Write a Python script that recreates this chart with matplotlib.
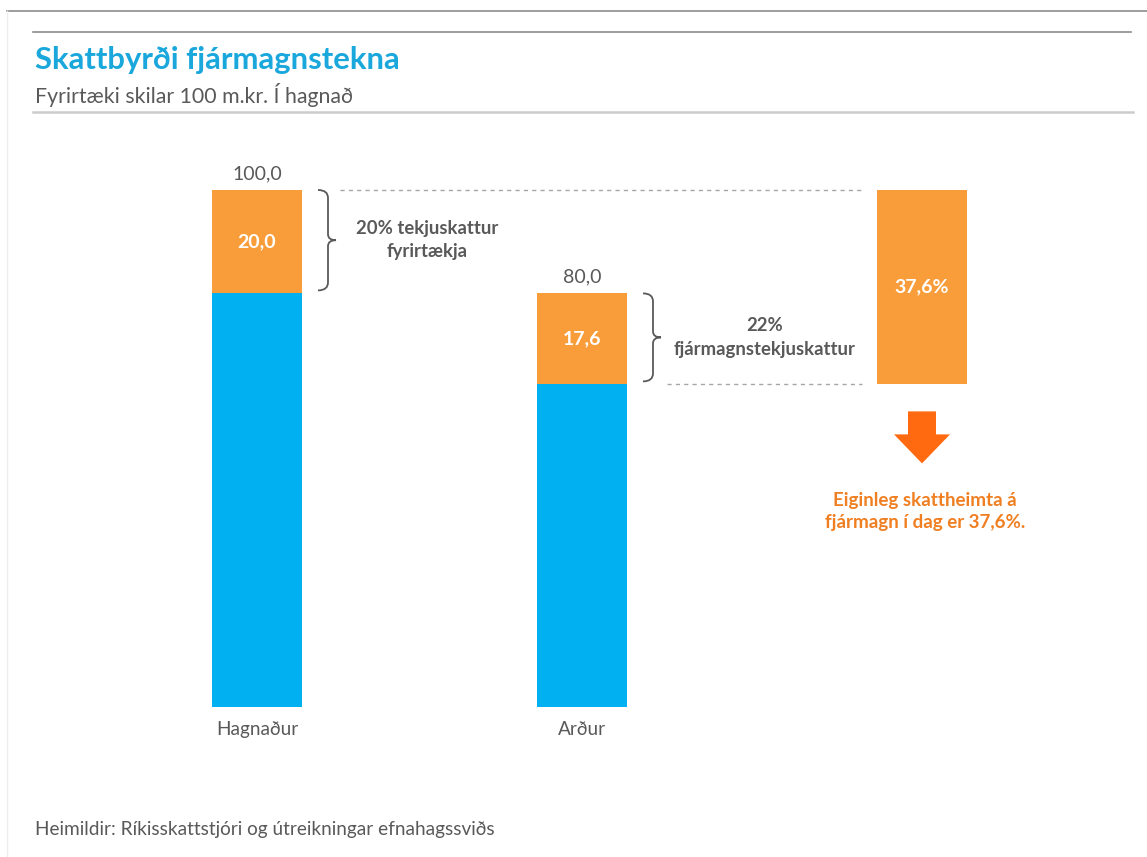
import matplotlib.pyplot as plt
from matplotlib.path import Path
from matplotlib.patches import PathPatch, FancyArrow
from matplotlib.lines import Line2D

plt.rcParams["font.family"] = ["Lato", "DejaVu Sans"]

categories = ["Hagnaður", "Arður"]
net_values = [80.0, 62.4]
tax_values = [20.0, 17.6]
total_labels = ["100,0", "80,0"]
tax_labels = ["20,0", "17,6"]
bracket_texts = ["20% tekjuskattur\nfyrirtækja", "22%\nfjármagnstekjuskattur"]
effective_rate = 37.6
effective_label = "37,6%"
conclusion = "Eiginleg skattheimta á\nfjármagn í dag er 37,6%."

BLUE = "#00B0F0"
ORANGE = "#F99D3A"
ARROW = "#FF6A10"
GRAY = "#595959"

W, H = 1147, 857
fig = plt.figure(figsize=(W / 100, H / 100), dpi=100)

# axes placed in pixel terms: bar centres at 257/582/922, baseline at y=707
px_per_x = 325.0
px_per_y = 5.17
ax_left, ax_right = 100, 1100
ax_top, ax_bottom = 140, 707
ax = fig.add_axes([ax_left / W, 1 - ax_bottom / H, (ax_right - ax_left) / W, (ax_bottom - ax_top) / H])
ax.set_xlim(-(257 - ax_left) / px_per_x, (ax_right - 257) / px_per_x)
ax.set_ylim(0, (ax_bottom - ax_top) / px_per_y)
for s in ax.spines.values():
    s.set_visible(False)
ax.set_yticks([])
width = 90 / px_per_x
xs = list(range(len(categories)))
ax.set_xticks(xs, categories, fontsize=13.7, color=GRAY)
ax.tick_params(axis="x", length=0, pad=10)

ax.bar(xs, net_values, width=width, color=BLUE)
ax.bar(xs, tax_values, width=width, bottom=net_values, color=ORANGE)
totals = [n + t for n, t in zip(net_values, tax_values)]

for x, n, t, tot, lab, tl in zip(xs, net_values, tax_values, totals, total_labels, tax_labels):
    ax.text(x, tot + 1.5, lab, ha="center", va="bottom", fontsize=14, color=GRAY)
    ax.text(x, n + t / 2, tl, ha="center", va="center", fontsize=14, color="white", fontweight="bold")

# floating effective-rate bar
x_eff = 2 + 15 / px_per_x
eff_bottom = totals[0] - effective_rate
ax.bar([x_eff], [effective_rate], width=width, bottom=eff_bottom, color=ORANGE)
ax.text(x_eff, eff_bottom + effective_rate / 2, effective_label, ha="center", va="center",
        fontsize=14, color="white", fontweight="bold")

# dashed guides
ax.plot([xs[0] + 83 / px_per_x, x_eff - 60 / px_per_x], [totals[0]] * 2,
        color="#A6A6A6", lw=1, ls=(0, (3, 3)))
ax.plot([xs[1] + 85 / px_per_x, x_eff - 60 / px_per_x], [eff_bottom] * 2,
        color="#A6A6A6", lw=1, ls=(0, (3, 3)))


def brace(x0, y_top, y_bot):
    dx = 1 / px_per_x
    dy = 1 / px_per_y
    xv = x0 + 10 * dx
    xt = x0 + 18 * dx
    ym = (y_top + y_bot) / 2
    verts = [
        (x0, y_top), (xv, y_top), (xv, y_top - 8 * dy),
        (xv, ym + 6 * dy), (xv, ym), (xt, ym),
        (xv, ym), (xv, ym - 6 * dy),
        (xv, y_bot + 8 * dy), (xv, y_bot), (x0, y_bot),
    ]
    codes = [Path.MOVETO, Path.CURVE3, Path.CURVE3, Path.LINETO, Path.CURVE3, Path.CURVE3,
             Path.CURVE3, Path.CURVE3, Path.LINETO, Path.CURVE3, Path.CURVE3]
    ax.add_patch(PathPatch(Path(verts, codes), fill=False, edgecolor=GRAY, lw=1.3))
    return xt, ym


text_gap = [91, 104]
for x, n, tot, txt, gap in zip(xs, net_values, totals, bracket_texts, text_gap):
    bx, by = brace(x + 61 / px_per_x, tot, n + 1 / px_per_y * 3)
    ax.text(bx + gap / px_per_x, by, txt, ha="center", va="center", fontsize=13.3,
            color=GRAY, fontweight="bold", linespacing=1.45)

# down arrow
arr_top = eff_bottom - 27 / px_per_y
arr_len = 52 / px_per_y
ax.add_patch(FancyArrow(x_eff, arr_top, 0, -arr_len, width=28 / px_per_x,
                        head_width=56 / px_per_x, head_length=29 / px_per_y,
                        length_includes_head=True, color=ARROW, lw=0))
ax.text(x_eff + 3 / px_per_x, arr_top - 100 / px_per_y, conclusion, ha="center", va="center",
        fontsize=13.5, color="#F07F22", fontweight="bold", linespacing=1.4)

# header / frame
fig.add_artist(Line2D([7 / W, 1], [1 - 11 / H] * 2, color="#8C8C8C", lw=1.2))
fig.add_artist(Line2D([7 / W] * 2, [0, 1 - 11 / H], color="#EEEEEE", lw=1))
fig.add_artist(Line2D([33 / W, 1131 / W], [1 - 32 / H] * 2, color="#8C8C8C", lw=1.2))
fig.add_artist(Line2D([33 / W, 1133 / W], [1 - 112 / H] * 2, color="#CCCCCC", lw=1.8))
fig.text(35 / W, 1 - 60 / H, "Skattbyrði fjármagnstekna", fontsize=22.3, fontweight="bold",
         color="#1AA7DC", va="center", ha="left")
fig.text(35 / W, 1 - 95 / H, "Fyrirtæki skilar 100 m.kr. Í hagnað", fontsize=15.3,
         color=GRAY, va="center", ha="left")
fig.text(35 / W, 1 - 829 / H, "Heimildir: Ríkisskattstjóri og útreikningar efnahagssviðs",
         fontsize=13.7, color=GRAY, va="center", ha="left")

fig.savefig("out.png", dpi=100)
